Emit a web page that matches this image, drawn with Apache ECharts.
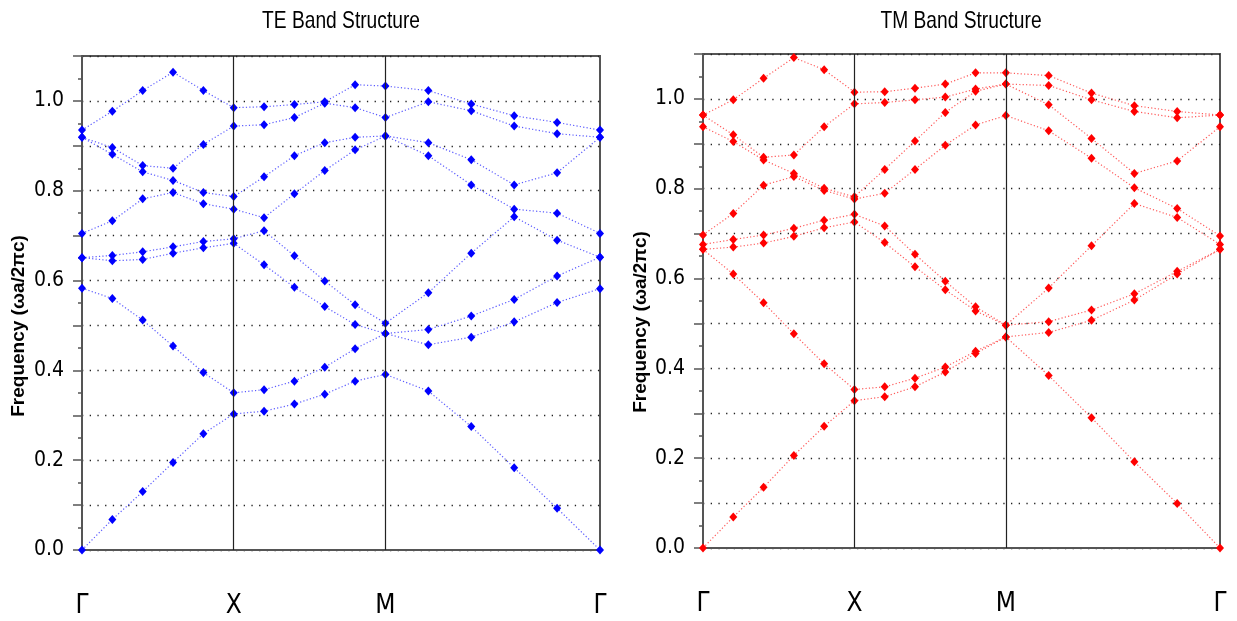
<!DOCTYPE html>
<html lang="en">
  <head>
    <meta charset="UTF-8" />
    <title>TE / TM Band Structure</title>
    <style>
      html, body { margin: 0; padding: 0; background: #fff; }
      #main { width: 1237px; height: 621px; }
    </style>
  </head>
  <body>
    <div id="main"></div>
    <script src="https://cdn.jsdelivr.net/npm/echarts@6/dist/echarts.min.js"></script>
    <script>
      // k-path distance of each computed point (Γ-X, X-M, M-Γ, 5 steps each)
      var kDist = [0, 0.1, 0.2, 0.3, 0.4, 0.5, 0.6, 0.7, 0.8, 0.9, 1.0, 1.1414, 1.2828, 1.4243, 1.5657, 1.7071];
      var kTicks = [0, 0.5, 1.0, 1.7071];
      var kLabels = ['Γ', 'X', 'M', 'Γ'];

      // TE bands, lowest first
      var teBand1 = [0, 0.068, 0.130, 0.195, 0.259, 0.303, 0.309, 0.325, 0.347, 0.376, 0.391, 0.354, 0.275, 0.183, 0.093, 0];
      var teBand2 = [0.583, 0.560, 0.512, 0.454, 0.395, 0.350, 0.357, 0.376, 0.407, 0.448, 0.482, 0.457, 0.474, 0.508, 0.551, 0.582];
      var teBand3 = [0.651, 0.644, 0.647, 0.661, 0.673, 0.683, 0.635, 0.585, 0.542, 0.502, 0.482, 0.491, 0.521, 0.558, 0.610, 0.652];
      var teBand4 = [0.651, 0.656, 0.664, 0.675, 0.687, 0.693, 0.711, 0.655, 0.599, 0.546, 0.505, 0.573, 0.661, 0.742, 0.690, 0.652];
      var teBand5 = [0.705, 0.733, 0.782, 0.796, 0.771, 0.759, 0.740, 0.793, 0.845, 0.891, 0.922, 0.878, 0.813, 0.759, 0.750, 0.705];
      var teBand6 = [0.919, 0.881, 0.842, 0.823, 0.796, 0.787, 0.831, 0.878, 0.907, 0.919, 0.922, 0.907, 0.869, 0.813, 0.840, 0.919];
      var teBand7 = [0.919, 0.896, 0.856, 0.850, 0.903, 0.944, 0.947, 0.963, 0.995, 0.985, 0.963, 0.998, 0.978, 0.944, 0.927, 0.919];
      var teBand8 = [0.935, 0.977, 1.023, 1.064, 1.023, 0.985, 0.987, 0.992, 0.998, 1.036, 1.033, 1.023, 0.993, 0.967, 0.952, 0.935];

      // TM bands, lowest first
      var tmBand1 = [0, 0.069, 0.135, 0.206, 0.271, 0.328, 0.337, 0.359, 0.392, 0.433, 0.470, 0.384, 0.290, 0.192, 0.099, 0];
      var tmBand2 = [0.665, 0.610, 0.546, 0.477, 0.410, 0.353, 0.359, 0.378, 0.403, 0.438, 0.470, 0.480, 0.507, 0.552, 0.610, 0.665];
      var tmBand3 = [0.665, 0.670, 0.679, 0.694, 0.713, 0.726, 0.680, 0.626, 0.575, 0.528, 0.496, 0.504, 0.530, 0.566, 0.616, 0.665];
      var tmBand4 = [0.676, 0.687, 0.697, 0.712, 0.730, 0.743, 0.717, 0.654, 0.594, 0.537, 0.496, 0.579, 0.673, 0.767, 0.736, 0.676];
      var tmBand5 = [0.697, 0.745, 0.808, 0.827, 0.796, 0.777, 0.790, 0.843, 0.897, 0.942, 0.963, 0.929, 0.868, 0.802, 0.756, 0.695];
      var tmBand6 = [0.938, 0.905, 0.864, 0.834, 0.801, 0.782, 0.843, 0.906, 0.970, 1.017, 1.033, 0.987, 0.912, 0.834, 0.862, 0.938];
      var tmBand7 = [0.964, 0.920, 0.870, 0.875, 0.938, 0.989, 0.992, 0.998, 1.004, 1.022, 1.033, 1.030, 0.998, 0.972, 0.958, 0.964];
      var tmBand8 = [0.964, 0.998, 1.046, 1.092, 1.065, 1.015, 1.016, 1.024, 1.033, 1.058, 1.058, 1.052, 1.013, 0.985, 0.972, 0.964];

      var teBands = [teBand1, teBand2, teBand3, teBand4, teBand5, teBand6, teBand7, teBand8];
      var tmBands = [tmBand1, tmBand2, tmBand3, tmBand4, tmBand5, tmBand6, tmBand7, tmBand8];

      var narrow = '"Liberation Sans Narrow", "DejaVu Sans Condensed", sans-serif';
      var sans = '"Liberation Sans", Arial, sans-serif';
      var axisColor = '#555';

      function makeX(gridIndex) {
        return {
          type: 'value', gridIndex: gridIndex, min: 0, max: kTicks[kTicks.length - 1],
          axisLine: { lineStyle: { color: axisColor, width: 2 } },
          axisTick: { show: false },
          splitLine: { show: false },
          axisLabel: {
            customValues: kTicks,
            showMinLabel: true, showMaxLabel: true,
            margin: 43, color: '#000', fontFamily: narrow, fontSize: 26,
            formatter: function (v) {
              for (var i = 0; i < kTicks.length; i++) {
                if (Math.abs(kTicks[i] - v) < 1e-6) return kLabels[i];
              }
              return '';
            }
          }
        };
      }

      function makeY(gridIndex) {
        return {
          type: 'value', gridIndex: gridIndex, min: 0, max: 1.1, interval: 0.1,
          axisLine: { show: true, lineStyle: { color: axisColor, width: 2 } },
          axisTick: { show: true, length: 9, lineStyle: { color: axisColor, width: 1.5 } },
          minorTick: { show: true, splitNumber: 2, length: 4, lineStyle: { color: axisColor, width: 1.5 } },
          splitLine: { show: true, lineStyle: { color: '#222', width: 1.3, type: [1.3, 6.4] } },
          axisLabel: {
            margin: 18, color: '#000', fontFamily: narrow, fontSize: 21,
            formatter: function (v) {
              var t = Math.round(v * 10);
              return (t % 2 === 0 && t <= 10) ? (t / 10).toFixed(1) : '';
            }
          }
        };
      }

      function bandSeries(bands, gridIndex, dotColor, lineColor) {
        return bands.map(function (band, b) {
          var s = {
            type: 'line', xAxisIndex: gridIndex, yAxisIndex: gridIndex,
            data: kDist.map(function (k, i) { return [k, band[i]]; }),
            symbol: 'diamond', symbolSize: [8, 9], showSymbol: true,
            itemStyle: { color: dotColor },
            lineStyle: { color: lineColor, width: 1.2, type: [1.2, 2.2] },
            z: 3, silent: true
          };
          if (b === 0) {
            // vertical lines at the X and M points
            s.markLine = {
              silent: true, symbol: ['none', 'none'], label: { show: false },
              lineStyle: { color: '#222', width: 1.2, type: 'solid' },
              data: [{ xAxis: kTicks[1] }, { xAxis: kTicks[2] }]
            };
          }
          return s;
        });
      }

      var myChart = echarts.init(document.getElementById('main'));
      var option = {
        animation: false,
        grid: [
          { left: 82, top: 56, width: 518, height: 494, show: true, borderColor: axisColor, borderWidth: 2 },
          { left: 703, top: 54, width: 517, height: 494, show: true, borderColor: axisColor, borderWidth: 2 }
        ],
        xAxis: [makeX(0), makeX(1)],
        yAxis: [makeY(0), makeY(1)],
        graphic: [
          { type: 'text', x: 341, y: 21, scaleX: 0.8, style: { text: 'TE Band Structure', font: '24px ' + sans, fill: '#000', align: 'center', verticalAlign: 'middle' } },
          { type: 'text', x: 961, y: 21, scaleX: 0.8, style: { text: 'TM Band Structure', font: '24px ' + sans, fill: '#000', align: 'center', verticalAlign: 'middle' } },
          { type: 'text', x: 19, y: 326, rotation: Math.PI / 2, style: { text: 'Frequency (ωa/2πc)', font: 'bold 19px ' + sans, fill: '#000', align: 'center', verticalAlign: 'middle' } },
          { type: 'text', x: 641, y: 322, rotation: Math.PI / 2, style: { text: 'Frequency (ωa/2πc)', font: 'bold 19px ' + sans, fill: '#000', align: 'center', verticalAlign: 'middle' } }
        ],
        series: bandSeries(teBands, 0, '#0000ff', '#5a5aff').concat(bandSeries(tmBands, 1, '#ff0000', '#ff5a5a'))
      };
      myChart.setOption(option);
    </script>
  </body>
</html>
